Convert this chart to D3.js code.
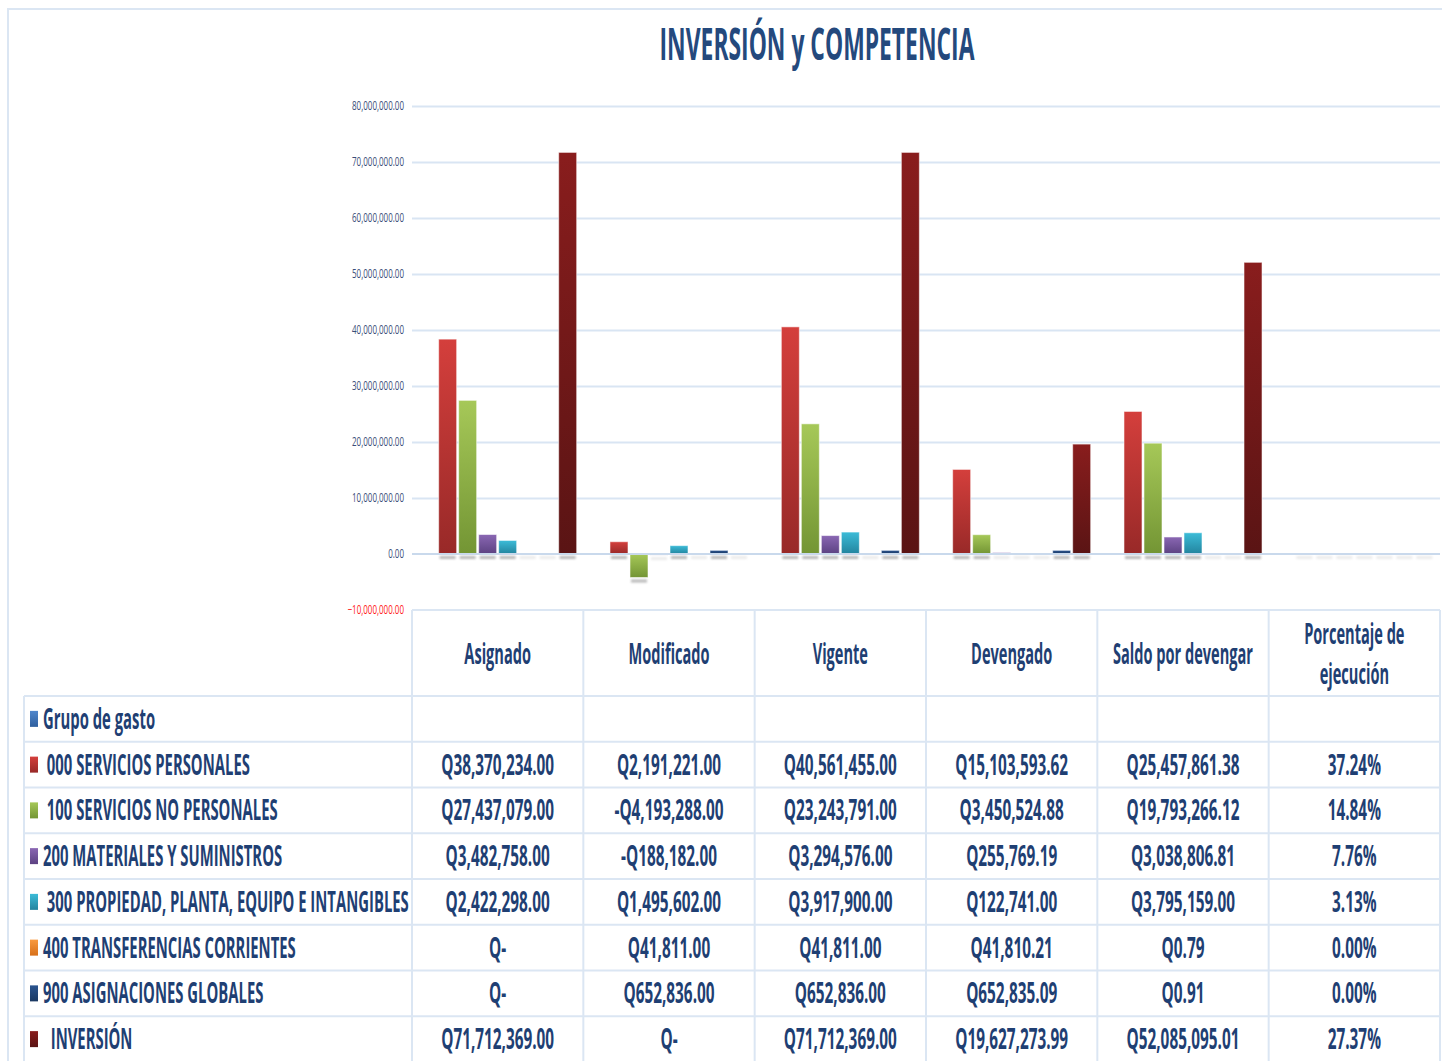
<!DOCTYPE html>
<html>
<head>
<meta charset="utf-8">
<script src="https://cdn.jsdelivr.net/npm/d3@7"></script>
<style>
  html, body { margin: 0; padding: 0; background: #fff; }
  svg { display: block; }
  text { font-family: "Open Sans", "Noto Sans", sans-serif; white-space: pre; }
</style>
</head>
<body>
<svg id="chart" width="1442" height="1061"></svg>
<script>
// ---- data ----
const categories = ["Asignado", "Modificado", "Vigente", "Devengado", "Saldo por devengar", "Porcentaje de ejecución"];
const seriesNames = [
  "Grupo de gasto",
  " 000 SERVICIOS PERSONALES",
  " 100 SERVICIOS NO PERSONALES",
  "200 MATERIALES Y SUMINISTROS",
  " 300 PROPIEDAD, PLANTA, EQUIPO E INTANGIBLES",
  "400 TRANSFERENCIAS CORRIENTES",
  "900 ASIGNACIONES GLOBALES",
  "  INVERSIÓN"
];
const grupoGasto   = [null, null, null, null, null, null];
const servPersonal = [38370234.00, 2191221.00, 40561455.00, 15103593.62, 25457861.38, 0.3724];
const servNoPers   = [27437079.00, -4193288.00, 23243791.00, 3450524.88, 19793266.12, 0.1484];
const materiales   = [3482758.00, -188182.00, 3294576.00, 255769.19, 3038806.81, 0.0776];
const propiedad    = [2422298.00, 1495602.00, 3917900.00, 122741.00, 3795159.00, 0.0313];
const transfer     = [0, 41811.00, 41811.00, 41810.21, 0.79, 0];
const asignGlob    = [0, 652836.00, 652836.00, 652835.09, 0.91, 0];
const inversion    = [71712369.00, 0, 71712369.00, 19627273.99, 52085095.01, 0.2737];
const seriesValues = [grupoGasto, servPersonal, servNoPers, materiales, propiedad, transfer, asignGlob, inversion];
const yTicks = [-10000000, 0, 10000000, 20000000, 30000000, 40000000, 50000000, 60000000, 70000000, 80000000];

// top / bottom colours of each series gradient
const colors = [
  ["#4f86cc", "#2f5f9e"],
  ["#d43f3c", "#982928"],
  ["#a6c858", "#739534"],
  ["#8a67b3", "#5c4282"],
  ["#3cbcd8", "#23849e"],
  ["#f99a40", "#d7701a"],
  ["#2a548f", "#1a3862"],
  ["#891d1d", "#5a1414"]
];

const svg = d3.select("#chart");
const defs = svg.append("defs");
const navy = "#1f3f73";
const lineCol = "#dbe6f3";

colors.forEach((c, i) => {
  const g = defs.append("linearGradient").attr("id", "grad" + i)
    .attr("x1", 0).attr("y1", 0).attr("x2", 0).attr("y2", 1);
  g.append("stop").attr("offset", "0%").attr("stop-color", c[0]);
  g.append("stop").attr("offset", "100%").attr("stop-color", c[1]);
});
defs.append("filter").attr("id", "blur")
  .attr("x", "-50%").attr("y", "-100%").attr("width", "200%").attr("height", "300%")
  .append("feGaussianBlur").attr("stdDeviation", 1.2);

// condensed text helper: horizontal squeeze like the stretched original
function scaleFor(sample, size, weight, width) {
  const t = svg.append("text").attr("font-size", size).attr("font-weight", weight).text(sample);
  const w = t.node().getComputedTextLength();
  t.remove();
  return width / w;
}
function txt(g, x, y, str, size, weight, sx, anchor, fill) {
  return g.append("text")
    .attr("transform", `translate(${x},${y}) scale(${sx},1)`)
    .attr("font-size", size)
    .attr("font-weight", weight)
    .attr("text-anchor", anchor)
    .attr("fill", fill)
    .text(str);
}

const sxTitle = scaleFor("INVERSIÓN y COMPETENCIA", 45, "bold", 315);
const sxTable = scaleFor("Q38,370,234.00", 28, "bold", 113);
const sxLabel = scaleFor("300 PROPIEDAD, PLANTA, EQUIPO E INTANGIBLES", 28, "bold", 362);
const sxHead  = scaleFor("Saldo por devengar", 28, "bold", 140);
const sxAxis  = scaleFor("80,000,000.00", 12.5, "normal", 52);

// outer frame
svg.append("path").attr("d", "M8,1061 L8,9 L1442,9")
  .attr("fill", "none").attr("stroke", lineCol).attr("stroke-width", 2);

// title
txt(svg, 817, 60, "INVERSIÓN y COMPETENCIA", 45, "bold", sxTitle, "middle", "#24497d");

// ---- scales ----
const left = 412, right = 1440;
const x0 = d3.scaleBand().domain(categories).range([left, right]).paddingInner(0.066).paddingOuter(0.033);
const x1 = d3.scaleBand().domain(d3.range(seriesNames.length)).range([0, x0.bandwidth()])
  .paddingInner(0.1).paddingOuter(0.05);
const y = d3.scaleLinear().domain([-10000000, 80000000]).range([610, 106]);

// gridlines
const axis = d3.axisLeft(y).tickValues(yTicks.filter(v => v > 0)).tickSize(-(right - left)).tickFormat("");
const ag = svg.append("g").attr("transform", `translate(${left},0)`).call(axis);
ag.select(".domain").remove();
ag.selectAll(".tick line").attr("stroke", "#d9e5f3").attr("stroke-width", 2);

yTicks.forEach(v => {
  txt(svg, 404, y(v) + 4, d3.format(",.2f")(v), 12.5, "normal", sxAxis, "end", v < 0 ? "#ff2020" : "#3a4d78");
});

// ---- bars ----
const barData = [];
seriesValues.forEach((vals, s) => {
  vals.forEach((v, c) => {
    if (v === null) return;
    barData.push({ s, c, v });
  });
});

// soft shadows under bars
svg.append("g").selectAll("rect")
  .data(barData).enter().append("rect")
  .attr("x", d => x0(categories[d.c]) + x1(d.s) + 1)
  .attr("y", d => Math.max(y(d.v), y(0)) + 2)
  .attr("width", x1.bandwidth() - 2)
  .attr("height", 3)
  .attr("fill", "#808080")
  .attr("opacity", d => Math.abs(y(d.v) - y(0)) >= 1.5 ? 0.55 : 0.15)
  .attr("filter", "url(#blur)");

svg.append("g").selectAll("rect")
  .data(barData.filter(d => Math.abs(y(d.v) - y(0)) >= 0.5)).enter().append("rect")
  .attr("x", d => x0(categories[d.c]) + x1(d.s))
  .attr("y", d => Math.min(y(d.v), y(0)))
  .attr("width", x1.bandwidth())
  .attr("height", d => Math.abs(y(d.v) - y(0)))
  .attr("fill", d => `url(#grad${d.s})`)
  .attr("stroke", "rgba(255,255,255,0.55)")
  .attr("stroke-width", 1);

// zero line on top of bars
svg.append("line").attr("x1", left).attr("x2", right).attr("y1", y(0)).attr("y2", y(0))
  .attr("stroke", "#c9d9ec").attr("stroke-width", 2);

// ---- data table ----
const tableLeft = 24;
const headTop = 610, headBottom = 696;
const rowH = 45.75;
const tbl = svg.append("g");
const colX = c => left + (right - left) / categories.length * c;
const rowsBottom = 1061;

// horizontal lines
tbl.append("line").attr("x1", left).attr("x2", right).attr("y1", headTop).attr("y2", headTop);
d3.range(seriesNames.length + 1).forEach(i => {
  tbl.append("line").attr("x1", tableLeft).attr("x2", right)
    .attr("y1", headBottom + i * rowH).attr("y2", headBottom + i * rowH);
});
// vertical lines
d3.range(categories.length + 1).forEach(c => {
  tbl.append("line").attr("x1", colX(c)).attr("x2", colX(c)).attr("y1", headTop).attr("y2", rowsBottom);
});
tbl.append("line").attr("x1", tableLeft).attr("x2", tableLeft).attr("y1", headBottom).attr("y2", rowsBottom);
tbl.selectAll("line").attr("stroke", lineCol).attr("stroke-width", 2);

// headers
categories.forEach((c, i) => {
  const cx = colX(i) + (colX(i + 1) - colX(i)) / 2;
  if (c === "Porcentaje de ejecución") {
    txt(tbl, cx, 644, "Porcentaje de", 28, "bold", sxHead, "middle", navy);
    txt(tbl, cx, 684, "ejecución", 28, "bold", sxHead, "middle", navy);
  } else {
    txt(tbl, cx, 664, c, 28, "bold", sxHead, "middle", navy);
  }
});

function fmtCell(v, c) {
  if (v === null) return "";
  if (categories[c] === "Porcentaje de ejecución") return d3.format(".2f")(v * 100) + "%";
  if (v === 0) return "Q-";
  return (v < 0 ? "-Q" : "Q") + d3.format(",.2f")(Math.abs(v));
}

seriesNames.forEach((name, s) => {
  const rowTop = headBottom + s * rowH;
  const base = rowTop + rowH / 2 + 10;
  tbl.append("rect").attr("x", 30).attr("y", rowTop + rowH / 2 - 8)
    .attr("width", 8).attr("height", 16).attr("fill", `url(#grad${s})`);
  txt(tbl, 43, base, name, 28, "bold", sxLabel, "start", navy);
  seriesValues[s].forEach((v, c) => {
    const cx = colX(c) + (colX(c + 1) - colX(c)) / 2;
    txt(tbl, cx, base, fmtCell(v, c), 28, "bold", sxTable, "middle", navy);
  });
});
</script>
</body>
</html>
